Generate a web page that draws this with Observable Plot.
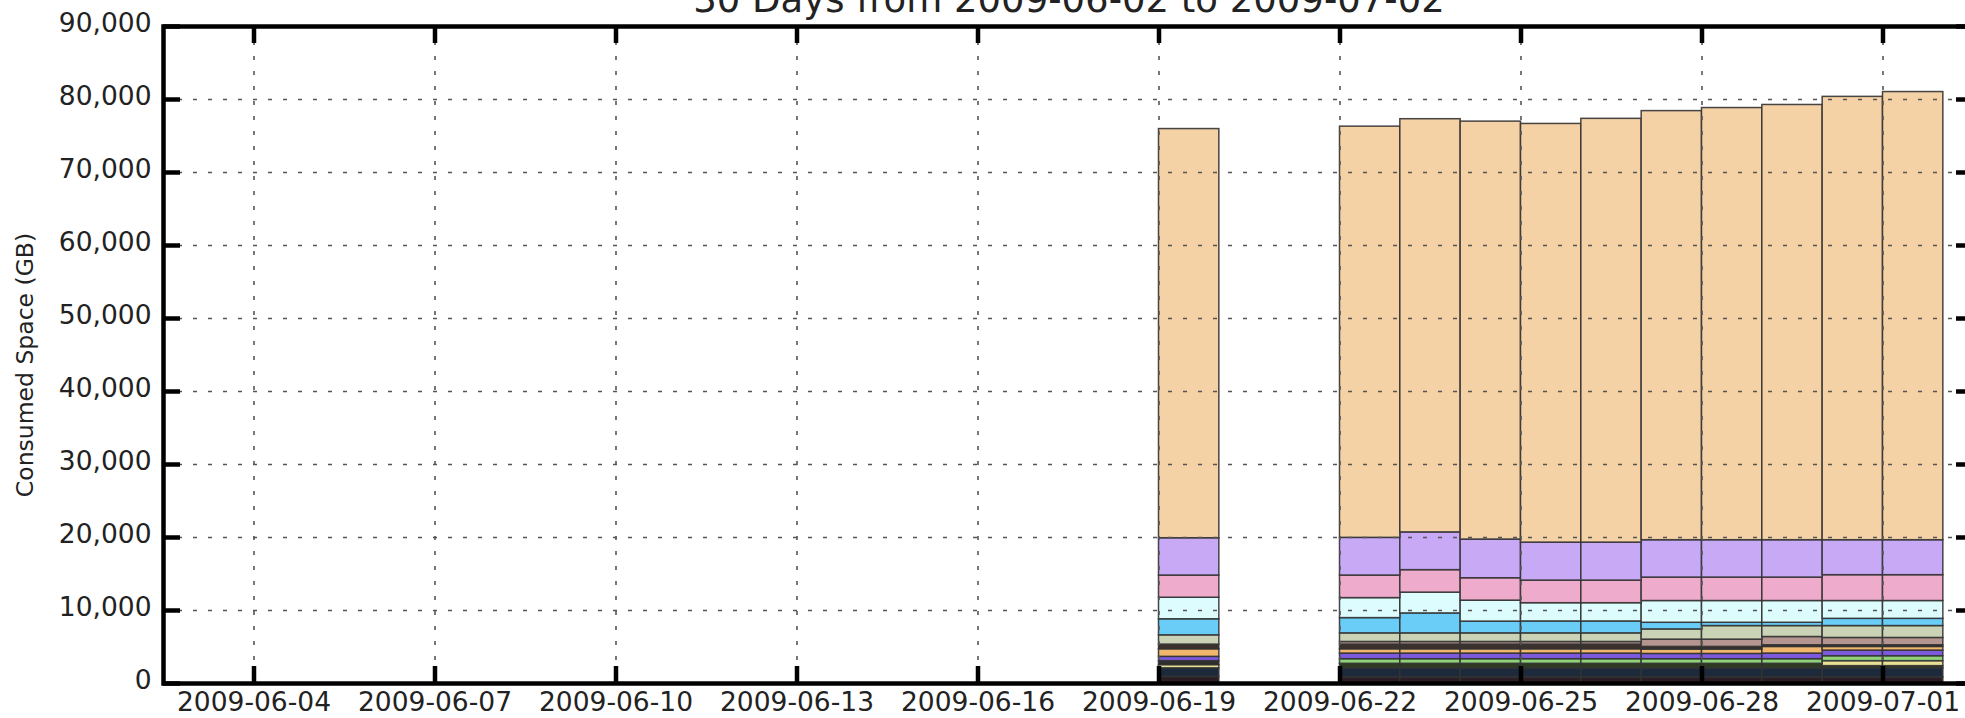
<!DOCTYPE html>
<html>
<head>
<meta charset="utf-8">
<script src="https://cdn.jsdelivr.net/npm/d3@7"></script>
<script src="https://cdn.jsdelivr.net/npm/@observablehq/plot@0.6"></script>
<style>
  html, body { margin: 0; padding: 0; background: #fff; overflow: hidden; }
  #wrap { position: relative; width: 1965px; height: 718px; overflow: hidden; }
  #title {
    position: absolute; left: 1069px; top: -18.6px; transform: translateX(-50%);
    font-family: "DejaVu Sans", sans-serif; font-size: 37px; line-height: 37px;
    white-space: nowrap; color: #222;
  }
  #chart { position: absolute; left: 0; top: 0; }
</style>
</head>
<body>
<div id="wrap">
  <div id="chart"></div>
  <div id="title">30 Days from 2009-06-02 to 2009-07-02</div>
</div>
<script>
// ---- data (GB) ----
const dates = ["2009-06-19","2009-06-22","2009-06-23","2009-06-24","2009-06-25","2009-06-26",
               "2009-06-27","2009-06-28","2009-06-29","2009-06-30","2009-07-01"];
const seriesNames = ["S01","S02","S03","S04","S05","S06","S07","S08",
                     "S09","S10","S11","S12","S13","S14","S15","S16"];
const s01 = [900, 830, 830, 830, 830, 830, 830, 830, 830, 830, 830];
const s02 = [1180, 1230, 1230, 1230, 1230, 1230, 1230, 1230, 1230, 1230, 1230];
const s03 = [0, 640, 640, 640, 640, 640, 640, 640, 640, 320, 320];
const s04 = [440, 0, 0, 0, 0, 0, 0, 0, 0, 680, 680];
const s05 = [0, 630, 630, 630, 630, 630, 630, 630, 630, 680, 680];
const s06 = [540, 0, 0, 0, 0, 0, 0, 0, 0, 0, 0];
const s07 = [590, 770, 770, 770, 770, 770, 720, 720, 770, 770, 770];
const s08 = [1040, 590, 590, 590, 590, 590, 600, 600, 910, 500, 500];
const s09 = [640, 640, 640, 640, 640, 640, 360, 360, 230, 230, 230];
const s10 = [0, 360, 360, 360, 360, 360, 1000, 1000, 1130, 1000, 1000];
const s11 = [1270, 1180, 1180, 1180, 1180, 1180, 1400, 1860, 1500, 1630, 1630];
const s12 = [2200, 2090, 2730, 1610, 1630, 1630, 910, 450, 450, 990, 990];
const s13 = [2950, 2740, 2850, 2870, 2500, 2500, 2980, 2980, 2980, 2440, 2440];
const s14 = [3040, 3090, 3080, 3070, 3100, 3100, 3210, 3210, 3210, 3540, 3540];
const s15 = [5110, 5160, 5170, 5300, 5200, 5200, 5120, 5120, 5120, 4790, 4790];
const s16 = [56050, 56330, 56600, 57250, 57350, 58050, 58780, 59200, 59620, 60730, 61390];
const seriesValues = [s01,s02,s03,s04,s05,s06,s07,s08,s09,s10,s11,s12,s13,s14,s15,s16];

const xTickLabels = ["2009-06-04","2009-06-07","2009-06-10","2009-06-13","2009-06-16",
                     "2009-06-19","2009-06-22","2009-06-25","2009-06-28","2009-07-01"];
const yTickValues = [0, 10000, 20000, 30000, 40000, 50000, 60000, 70000, 80000, 90000];

// ---- styles ----
const palette = ["#2c1d25","#1c2a3b","#2f3a24","#e8e094","#8fd07a","#2e2e2e","#7c59dd","#efb66c",
                 "#3b302c","#b5958f","#cad3b6","#69cdf8","#dcfcfe","#eeabcb","#c8a9f6","#f5d1a6"];

const parse = d3.utcParse("%Y-%m-%d");
const dateObjs = dates.map(parse);
const rows = [];
seriesNames.forEach((name, k) => {
  seriesValues[k].forEach((v, i) => {
    if (v > 0) rows.push({date: dateObjs[i], series: name, value: v});
  });
});
const xTicks = xTickLabels.map(parse);

const W = 1985, H = 718, mL = 163, mR = 12, mT = 26, mB = 35;
const plotW = W - mL - mR, plotH = H - mT - mB;
const tickLen = 17;
const gridStyle = {stroke: "#555", strokeOpacity: 1, strokeWidth: 1.6, strokeDasharray: "4,11"};

const chart = Plot.plot({
  width: W, height: H,
  marginLeft: mL, marginRight: mR, marginTop: mT, marginBottom: mB,
  style: {fontFamily: "DejaVu Sans, sans-serif", maxWidth: "none", background: "#fff", color: "#222"},
  x: {type: "utc", domain: [new Date("2009-06-02T12:00Z"), new Date("2009-07-02T12:00Z")]},
  y: {domain: [0, 90000]},
  color: {domain: seriesNames, range: palette},
  marks: [
    Plot.rectY(rows, {
      x1: "date", x2: d => d3.utcDay.offset(d.date, 1), y: "value", fill: "series",
      stroke: "#333", strokeWidth: 1.5, strokeOpacity: 0.9
    }),
    Plot.gridY(yTickValues.slice(1, -1), gridStyle),
    Plot.gridX(xTicks, gridStyle),
    Plot.tickY(yTickValues, {y: d => d, insetRight: plotW - tickLen, stroke: "#000", strokeWidth: 4.5}),
    Plot.tickY(yTickValues, {y: d => d, insetLeft: plotW - tickLen, stroke: "#000", strokeWidth: 4.5}),
    Plot.tickX(xTicks, {x: d => d, insetBottom: plotH - tickLen, stroke: "#000", strokeWidth: 4.5}),
    Plot.tickX(xTicks, {x: d => d, insetTop: plotH - tickLen, stroke: "#000", strokeWidth: 4.5}),
    Plot.frame({stroke: "#000", strokeWidth: 4.5}),
    Plot.axisY({ticks: yTickValues, tickFormat: d3.format(","), tickSize: 0, tickPadding: 12,
                dy: -3, fontSize: 26.5, label: null, fill: "#222"}),
    Plot.axisX({ticks: xTicks, tickFormat: d3.utcFormat("%Y-%m-%d"), tickSize: 0, tickPadding: 9,
                fontSize: 26.5, label: null, fill: "#222"}),
    Plot.text(["Consumed Space (GB)"], {
      frameAnchor: "left", text: d => d, rotate: -90, textAnchor: "middle", lineAnchor: "middle",
      dx: -138, dy: 10, fontSize: 23.5, fill: "#222"
    })
  ]
});
document.getElementById("chart").appendChild(chart);
</script>
</body>
</html>
